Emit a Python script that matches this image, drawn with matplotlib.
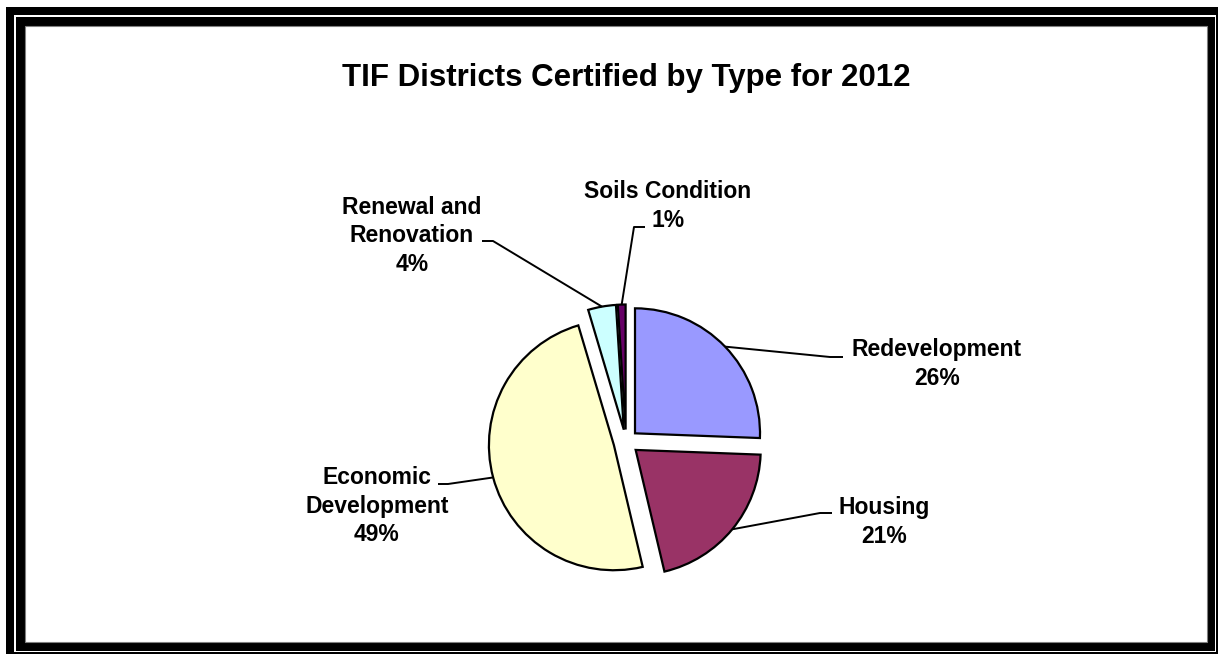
import numpy as np
import matplotlib
matplotlib.use("Agg")
import matplotlib.pyplot as plt
from matplotlib.patches import Rectangle

# chart data
types = ['Redevelopment', 'Housing', 'Economic\nDevelopment',
         'Renewal and\nRenovation', 'Soils Condition']
shares = [25.6, 20.7, 49.1, 3.6, 1.0]
colors = ['#9999FF', '#993366', '#FFFFCC', '#CCFFFF', '#660066']
title = 'TIF Districts Certified by Type for 2012'

W, H = 1219, 654
plt.rcParams['font.family'] = ['Liberation Sans', 'DejaVu Sans']

fig = plt.figure(figsize=(W / 100, H / 100), dpi=100)
ax = fig.add_axes([0, 0, 1, 1])

def py(y):
    # top-down pixel row -> axes y
    return H - y

def box(x0, y0, x1, y1, **kw):
    ax.add_patch(Rectangle((x0, py(y1)), x1 - x0, y1 - y0, clip_on=False, **kw))

# double frame
box(6, 7, 1218, 15, color='black', lw=0)
box(6, 7, 14, 654, color='black', lw=0)
box(1216, 7, 1218, 654, color='black', lw=0)
box(6, 652, 1218, 654, color='black', lw=0)
box(16, 17, 1215, 651, color='black', lw=0)
box(25, 26, 1207, 642, facecolor='white', edgecolor='#808080', lw=0.8)

# pie, center and radius in pixels (explode is absolute in matplotlib)
cx, cy, rad = 626, 442, 125
wedges, _ = ax.pie(shares, colors=colors, startangle=90, counterclock=False,
                   explode=[0.1 * rad] * len(shares), radius=rad,
                   center=(cx, py(cy)),
                   wedgeprops=dict(edgecolor='black', linewidth=1.6))
ax.set_xlim(0, W)
ax.set_ylim(0, H)
ax.set_aspect('auto')
ax.axis('off')

# label layout: text centre, leader elbow, leader stub end (top-down px)
label_pos = [(937, 364), (884, 522), (377, 506), (412, 236), (668, 206)]
elbows = [(830, 357), (820, 513), (448, 484), (493, 241), (634, 227)]
stub_ends = [(843, 357), (832, 513), (438, 484), (482, 241), (645, 227)]

for w, name, val, (tx, ty), (ex, ey), (sx, sy) in zip(
        wedges, types, shares, label_pos, elbows, stub_ends):
    mid = np.deg2rad((w.theta1 + w.theta2) / 2)
    x0 = w.center[0] + w.r * np.cos(mid)
    y0 = w.center[1] + w.r * np.sin(mid)
    ax.plot([x0, ex, sx], [y0, py(ey), py(sy)], color='black', lw=1.4,
            solid_capstyle='butt')
    ax.text(tx, py(ty), '%s\n%.0f%%' % (name, val), ha='center', va='center',
            fontsize=16.5, fontweight='bold', linespacing=1.32)

ax.text(626, py(78), title, ha='center', va='center', fontsize=22.5,
        fontweight='bold')

fig.savefig('out.png', dpi=100)
